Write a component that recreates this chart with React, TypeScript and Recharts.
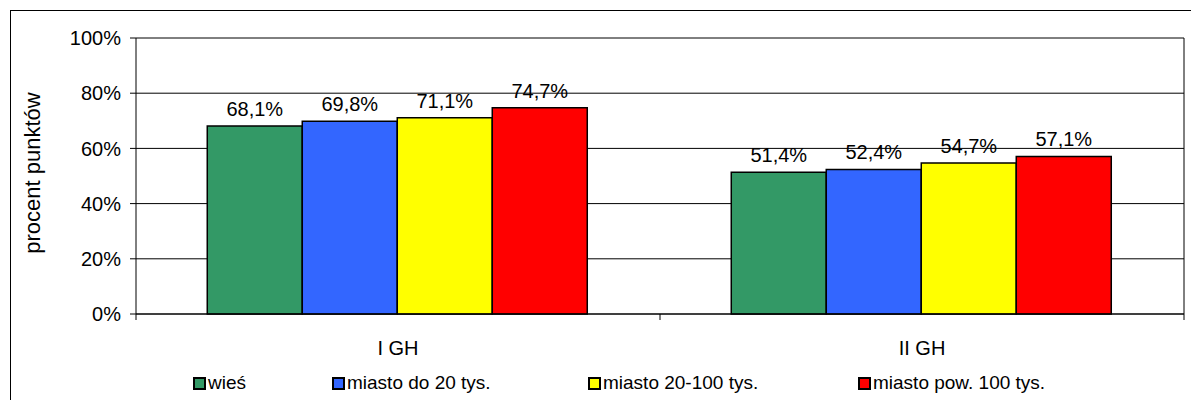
import React from 'react';
import {
  BarChart,
  Bar,
  XAxis,
  YAxis,
  CartesianGrid,
  Legend,
  LabelList
} from 'recharts';

const categories = ['I GH', 'II GH'];
const wies = [68.1, 51.4];
const miastoDo20 = [69.8, 52.4];
const miasto20do100 = [71.1, 54.7];
const miastoPow100 = [74.7, 57.1];
const yTicks = [0, 20, 40, 60, 80, 100];

const seriesNames = ['wieś', 'miasto do 20 tys.', 'miasto 20-100 tys.', 'miasto pow. 100 tys.'];
const seriesKeys = ['wies', 'do20', 'd20_100', 'pow100'];
const seriesColors = ['#339966', '#3366FF', '#FFFF00', '#FF0000'];

const data = categories.map((name, i) => ({
  name,
  wies: wies[i],
  do20: miastoDo20[i],
  d20_100: miasto20do100[i],
  pow100: miastoPow100[i],
}));

// legend item left edges (px)
const legendLeft = [193, 332, 588, 858];

const FONT = 'Arial, "Liberation Sans", sans-serif';

const fmtPct = (v: any) => `${Number(v).toFixed(1).replace('.', ',')}%`;

const CategoryTick = (props: any) => {
  const { x, y, payload, index } = props;
  const half = payload?.offset ?? 262;
  return (
    <g>
      <text x={x} y={y + 41} textAnchor="middle" fontSize={20} fill="#000" fontFamily={FONT}>
        {payload.value}
      </text>
      <line x1={x + half} x2={x + half} y1={y} y2={y + 6} stroke="#000" />
      {index === 0 && <line x1={x - half} x2={x - half} y1={y} y2={y + 6} stroke="#000" />}
    </g>
  );
};

const renderLegend = () => (
  <div style={{ position: 'relative', height: 30, fontFamily: FONT }}>
    {seriesNames.map((n, i) => (
      <div
        key={n}
        style={{
          position: 'absolute',
          left: legendLeft[i],
          top: 2,
          display: 'flex',
          alignItems: 'center',
          fontSize: 19,
          color: '#000',
          lineHeight: '22px',
          whiteSpace: 'nowrap',
        }}
      >
        <span
          style={{
            display: 'inline-block',
            width: 9,
            height: 9,
            background: seriesColors[i],
            border: '2px solid #000',
            marginRight: 2,
          }}
        />
        {n}
      </div>
    ))}
  </div>
);

const YLabel = () => (
  <text
    x={32}
    y={173}
    transform="rotate(-90, 32, 173)"
    textAnchor="middle"
    dominantBaseline="central"
    fontSize={22}
    fill="#000"
    fontFamily={FONT}
  >
    procent punktów
  </text>
);

export default function App() {
  return (
    <div style={{ position: 'absolute', left: 0, top: 0, width: 1191, height: 400, background: '#fff' }}>
      {/* outer frame */}
      <div
        style={{
          position: 'absolute',
          left: 10,
          top: 10,
          right: 0,
          bottom: 0,
          borderLeft: '1px solid #000',
          borderTop: '1px solid #000',
        }}
      />
      <BarChart
        width={1191}
        height={400}
        data={data}
        margin={{ top: 38, right: 7, left: 0, bottom: 0 }}
        barCategoryGap="13.6%"
        barGap={0}
        style={{ fontFamily: FONT }}
      >
        <CartesianGrid
          stroke="#000"
          vertical={true}
          verticalCoordinatesGenerator={({ offset }: any) => [offset.left + offset.width]}
        />
        <XAxis
          dataKey="name"
          height={56}
          axisLine={{ stroke: '#000' }}
          tickLine={false}
          tickSize={0}
          tickMargin={0}
          tick={<CategoryTick />}
          interval={0}
        />
        <YAxis
          width={136}
          domain={[0, 100]}
          ticks={yTicks}
          tickFormatter={(v: number) => `${v}%`}
          axisLine={{ stroke: '#000' }}
          tickLine={{ stroke: '#000' }}
          tickSize={6}
          tickMargin={9}
          tick={{ fill: '#000', fontSize: 20, fontFamily: FONT }}
          label={<YLabel />}
        />
        <Legend verticalAlign="bottom" height={30} content={renderLegend} />
        {seriesKeys.map((k, i) => (
          <Bar
            key={k}
            dataKey={k}
            name={seriesNames[i]}
            fill={seriesColors[i]}
            stroke="#000"
            strokeWidth={1.5}
            isAnimationActive={false}
          >
            <LabelList
              dataKey={k}
              position="top"
              offset={10}
              formatter={fmtPct}
              style={{ fill: '#000', fontSize: 20, fontFamily: FONT }}
            />
          </Bar>
        ))}
      </BarChart>
    </div>
  );
}
